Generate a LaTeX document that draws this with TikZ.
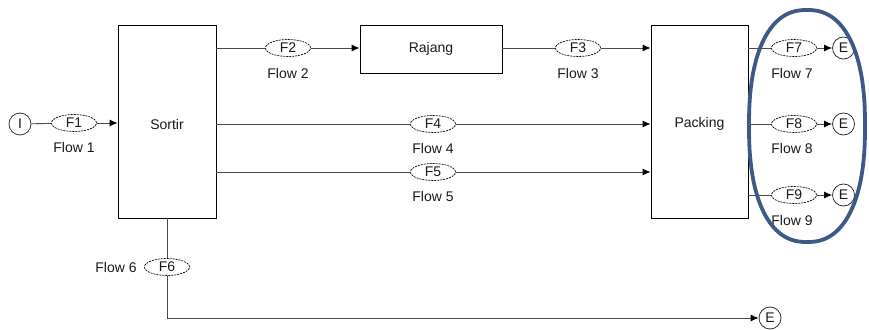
\documentclass[tikz,border=0pt]{standalone}
\usepackage{fontspec}
\setmainfont{Liberation Sans}
\usetikzlibrary{arrows.meta,shapes.geometric}
\definecolor{lineg}{HTML}{4A4A4A}
\definecolor{ringblue}{HTML}{3D5A87}
\begin{document}
\begin{tikzpicture}[x=1pt,y=-1pt,
  every node/.style={font=\fontsize{14}{16}\selectfont, text=black!90},
  box/.style={draw=black, line width=0.8pt, inner sep=0pt},
  flowell/.style={draw=black, ellipse, line width=0.7pt, dash pattern=on 2pt off 1pt, minimum width=45pt, minimum height=17pt, inner sep=0pt, fill=white},
  term/.style={draw=black!80, circle, line width=0.8pt, minimum size=22pt, inner sep=0pt, fill=white},
  conn/.style={draw=lineg, line width=0.9pt},
  arr/.style={conn, -{Latex[length=8pt,width=7pt,color=black]}},
  lab/.style={inner sep=0pt}
]
\useasboundingbox (0,0) rectangle (869,329);
% boxes
\node[box, minimum width=98pt, minimum height=193pt] (sortir) at (167,121.5) {};
\node[box, minimum width=142pt, minimum height=48pt] (rajang) at (431,49) {Rajang};
\node[box, minimum width=97pt, minimum height=193pt] (packing) at (699.5,121.5) {};
\node[lab] (sortirlab) at (167,124) {Sortir};
\node[lab] (packinglab) at (699.5,124) {Packing};
% terminals
\node[term] (I) at (20,124) {I};
\node[term] (E7) at (843.5,48) {E};
\node[term] (E8) at (843.5,124) {E};
\node[term] (E9) at (843.5,195) {E};
\node[term] (E6) at (770,318) {E};
% flow ellipses
\node[flowell] (F1) at (74,123) {F1};
\node[flowell] (F2) at (288,48) {F2};
\node[flowell] (F3) at (578,48) {F3};
\node[flowell] (F4) at (433,124) {F4};
\node[flowell] (F5) at (433,172) {F5};
\node[flowell] (F6) at (167,267) {F6};
\node[flowell] (F7) at (794,48) {F7};
\node[flowell] (F8) at (794,124) {F8};
\node[flowell] (F9) at (794,195) {F9};
% connectors
\draw[conn] (I) -- (F1);
\draw[arr] (F1) -- (F1 -| sortir.west);
\draw[conn] (F2 -| sortir.east) -- (F2);
\draw[arr] (F2) -- (F2 -| rajang.west);
\draw[conn] (F3 -| rajang.east) -- (F3);
\draw[arr] (F3) -- (F3 -| packing.west);
\draw[conn] (F4 -| sortir.east) -- (F4);
\draw[arr] (F4) -- (F4 -| packing.west);
\draw[conn] (F5 -| sortir.east) -- (F5);
\draw[arr] (F5) -- (F5 -| packing.west);
\draw[conn] (F7 -| packing.east) -- (F7);
\draw[arr] (F7) -- (E7);
\draw[conn] (F8 -| packing.east) -- (F8);
\draw[arr] (F8) -- (E8);
\draw[conn] (F9 -| packing.east) -- (F9);
\draw[arr] (F9) -- (E9);
\draw[conn] (sortir.south) -- (F6);
\draw[arr] (F6) -- (F6 |- E6) -- (E6);
% labels
\node[lab] (l1) at (74,147) {Flow 1};
\node[lab] (l2) at (288,73) {Flow 2};
\node[lab] (l3) at (578,73) {Flow 3};
\node[lab] (l4) at (433,148) {Flow 4};
\node[lab] (l5) at (433,196) {Flow 5};
\node[lab] (l6) at (116,267) {Flow 6};
\node[lab] (l7) at (792,73) {Flow 7};
\node[lab] (l8) at (792,148) {Flow 8};
\node[lab] (l9) at (792,220) {Flow 9};
% highlight ring (slightly full oval)
\draw[ringblue, line width=3.8pt, line join=round]
  plot[domain=0.5:357.5, samples=120, smooth cycle]
  ({807+58*sign(cos(\x))*pow(abs(cos(\x)),0.85)}, {126+116*sign(sin(\x))*pow(abs(sin(\x)),0.85)});
\end{tikzpicture}
\end{document}
